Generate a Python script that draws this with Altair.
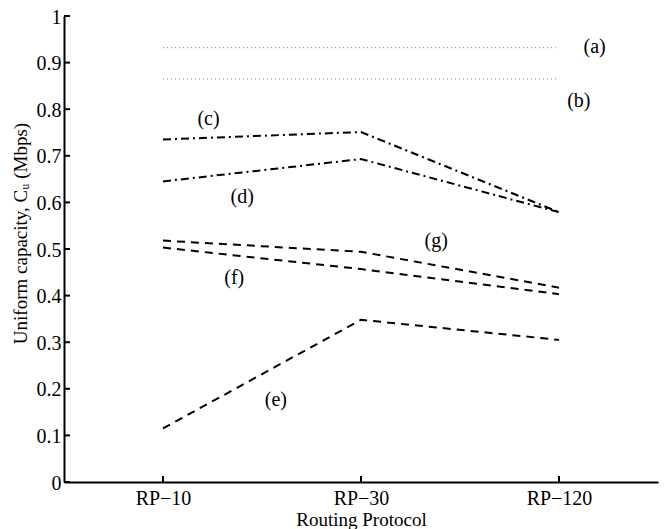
import json
import altair as alt
import pandas as pd

# ---- data ----
protocols = ["RP−10", "RP−30", "RP−120"]
series_names = ["(a)", "(b)", "(c)", "(d)", "(e)", "(f)", "(g)"]
vals_a = [0.932, 0.932, 0.932]
vals_b = [0.865, 0.865, 0.865]
vals_c = [0.735, 0.751, 0.579]
vals_d = [0.645, 0.693, 0.579]
vals_e = [0.115, 0.348, 0.305]
vals_f = [0.503, 0.457, 0.403]
vals_g = [0.518, 0.494, 0.417]
all_vals = [vals_a, vals_b, vals_c, vals_d, vals_e, vals_f, vals_g]

# annotation positions (data units: x index, capacity)
label_x = [2.18, 2.10, 0.23, 0.40, 0.57, 0.36, 1.38]
label_y = [0.934, 0.818, 0.778, 0.611, 0.177, 0.438, 0.517]

y_ticks = [0, 0.1, 0.2, 0.3, 0.4, 0.5, 0.6, 0.7, 0.8, 0.9, 1]
x_ticks = [0, 1, 2]

# ---- styles ----
styles = {
    "(a)": dict(color="#9a9a9a", dash=[1, 3], width=1.2),
    "(b)": dict(color="#9a9a9a", dash=[1, 3], width=1.2),
    "(c)": dict(color="black", dash=[8, 4, 2, 4], width=2),
    "(d)": dict(color="black", dash=[8, 4, 2, 4], width=2),
    "(e)": dict(color="black", dash=[8, 6], width=2),
    "(f)": dict(color="black", dash=[8, 6], width=2),
    "(g)": dict(color="black", dash=[8, 6], width=2),
}

FONT = "Liberation Serif, Times New Roman, DejaVu Serif, serif"
W, H = 594, 466

label_expr = json.dumps(protocols) + "[datum.value]"

x_enc = alt.X(
    "x:Q",
    scale=alt.Scale(domain=[-0.5, 2.5], nice=False, zero=False),
    axis=alt.Axis(
        values=x_ticks, labelExpr=label_expr, title="Routing Protocol",
        ticks=False, grid=False, domainColor="black", domainWidth=2,
        labelFont=FONT, labelFontSize=20, labelColor="black", labelPadding=6,
        titleFont=FONT, titleFontSize=19, titleFontWeight="normal",
        titleColor="black", titlePadding=2,
    ),
)
y_enc = alt.Y(
    "y:Q",
    scale=alt.Scale(domain=[0, 1], nice=False),
    axis=alt.Axis(
        values=y_ticks, format="~g", title="Uniform capacity, Cᵤ (Mbps)",
        ticks=False, grid=False, domainColor="black", domainWidth=2,
        labelFont=FONT, labelFontSize=20, labelColor="black", labelPadding=3,
        labelBaseline="alphabetic", labelOffset=7,
        titleFont=FONT, titleFontSize=19, titleFontWeight="normal",
        titleColor="black", titleX=-34, titleY=217,
    ),
)

layers = []
for name, vals in zip(series_names, all_vals):
    df = pd.DataFrame({"x": list(range(len(protocols))), "y": vals})
    st = styles[name]
    layers.append(
        alt.Chart(df).mark_line(
            color=st["color"], strokeDash=st["dash"], strokeWidth=st["width"]
        ).encode(x=x_enc, y=y_enc)
    )

lab_df = pd.DataFrame({"x": label_x, "y": label_y, "t": series_names})
layers.append(
    alt.Chart(lab_df).mark_text(
        font=FONT, fontSize=20, color="black", align="center", baseline="middle"
    ).encode(x=x_enc, y=y_enc, text="t:N")
)

# inward ticks
yt_df = pd.DataFrame({"y": y_ticks})
layers.append(
    alt.Chart(yt_df).mark_rule(color="black", strokeWidth=2).encode(
        y=y_enc, x=alt.value(0), x2=alt.value(6)
    )
)
xt_df = pd.DataFrame({"x": x_ticks})
layers.append(
    alt.Chart(xt_df).mark_rule(color="black", strokeWidth=2).encode(
        x=x_enc, y=alt.value(H), y2=alt.value(H - 6)
    )
)

chart = (
    alt.layer(*layers)
    .properties(
        width=W, height=H,
        autosize=alt.AutoSizeParams(type="none"),
        padding={"left": 56, "top": 8, "right": 4, "bottom": 55},
        background="white",
    )
    .configure_view(stroke=None)
)

chart.save("out.html", embed_options={"renderer": "svg", "actions": False})
